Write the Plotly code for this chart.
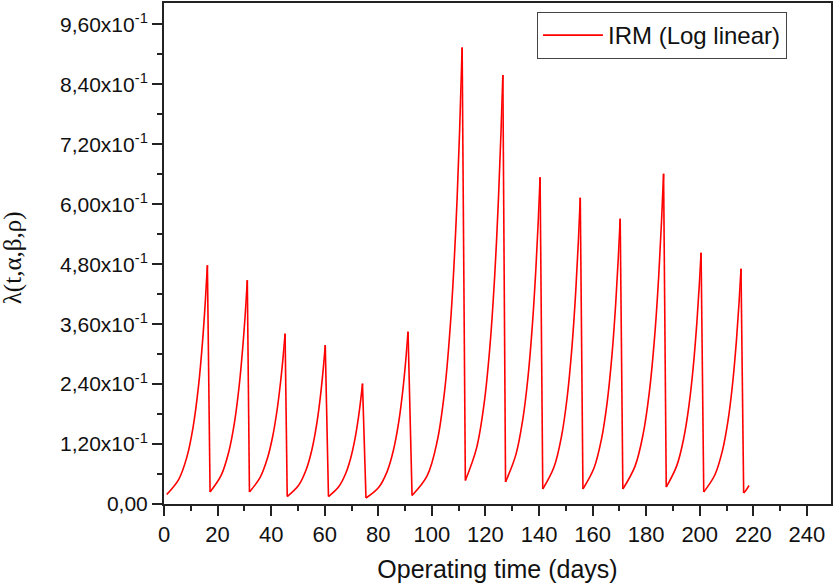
import plotly.graph_objects as go

# Operating time (days) and intensity values
t_values = [
    1.0, 5.56, 8.6, 10.88, 12.86, 14.38, 15.44, 16.2,
    17.2, 21.37, 24.15, 26.24, 28.04, 29.43, 30.41, 31.1,
    31.9, 35.89, 38.55, 40.55, 42.27, 43.6, 44.54, 45.2,
    46.0, 50.26, 53.1, 55.23, 57.08, 58.5, 59.49, 60.2,
    61.4, 65.21, 67.75, 69.66, 71.31, 72.58, 73.47, 74.1,
    75.4, 80.11, 83.25, 85.6, 87.65, 89.22, 90.32, 91.1,
    92.6, 98.21, 101.95, 104.76, 107.19, 109.06, 110.37, 111.3,
    112.5, 116.7, 119.5, 121.6, 123.42, 124.82, 125.8, 126.5,
    127.5, 131.37, 133.95, 135.89, 137.56, 138.85, 139.76, 140.4,
    141.4, 145.6, 148.4, 150.5, 152.32, 153.72, 154.7, 155.4,
    156.4, 160.57, 163.35, 165.44, 167.24, 168.63, 169.6, 170.3,
    171.3, 175.86, 178.9, 181.18, 183.16, 184.68, 185.74, 186.5,
    187.5, 191.4, 194.0, 195.95, 197.64, 198.94, 199.85, 200.5,
    201.5, 205.67, 208.45, 210.54, 212.34, 213.73, 214.71, 215.4,
    216.4, 217.4, 218.4,
]
lambda_values = [
    0.019, 0.050, 0.0953, 0.1546, 0.235, 0.3245, 0.4066, 0.478,
    0.024, 0.0577, 0.1037, 0.1609, 0.2353, 0.3154, 0.387, 0.448,
    0.024, 0.0532, 0.0905, 0.1347, 0.1902, 0.2482, 0.2986, 0.341,
    0.015, 0.0375, 0.0691, 0.1092, 0.1624, 0.2205, 0.273, 0.318,
    0.015, 0.0345, 0.0601, 0.0912, 0.1308, 0.1728, 0.2098, 0.241,
    0.012, 0.0329, 0.0644, 0.1065, 0.1649, 0.2306, 0.2917, 0.345,
    0.017, 0.0562, 0.1247, 0.2266, 0.3805, 0.5668, 0.7494, 0.914,
    0.047, 0.1124, 0.201, 0.3108, 0.4536, 0.6063, 0.743, 0.859,
    0.044, 0.0989, 0.1696, 0.2543, 0.3612, 0.473, 0.5716, 0.654,
    0.030, 0.0742, 0.1356, 0.2132, 0.3156, 0.4266, 0.527, 0.613,
    0.030, 0.0726, 0.1309, 0.2036, 0.2985, 0.4008, 0.4929, 0.571,
    0.030, 0.0759, 0.1408, 0.2239, 0.3346, 0.456, 0.5659, 0.661,
    0.034, 0.0763, 0.1308, 0.1958, 0.278, 0.364, 0.4393, 0.503,
    0.024, 0.0586, 0.1063, 0.1662, 0.2448, 0.3296, 0.4058, 0.471,
    0.022, 0.0285, 0.037,
]

y_tickvals = [0.0, 0.12, 0.24, 0.36, 0.48, 0.60, 0.72, 0.84, 0.96]
y_ticktext = ["0,00", "1,20x10<sup>-1</sup>", "2,40x10<sup>-1</sup>", "3,60x10<sup>-1</sup>",
              "4,80x10<sup>-1</sup>", "6,00x10<sup>-1</sup>", "7,20x10<sup>-1</sup>",
              "8,40x10<sup>-1</sup>", "9,60x10<sup>-1</sup>"]
x_tickvals = [0, 20, 40, 60, 80, 100, 120, 140, 160, 180, 200, 220, 240]

series_name = "IRM (Log linear)"
x_title = "Operating time (days)"
y_title = "λ(t,α,β,ρ)"

# Split the curve into rising parts (smooth) and repair drops (straight)
rise_x, rise_y, drop_x, drop_y = [], [], [], []
for i, (t, v) in enumerate(zip(t_values, lambda_values)):
    if i > 0 and v < lambda_values[i - 1]:
        rise_x.append(None); rise_y.append(None)
        drop_x += [t_values[i - 1], t, None]
        drop_y += [lambda_values[i - 1], v, None]
    rise_x.append(t); rise_y.append(v)

red = "#ff0000"
fig = go.Figure()
fig.add_trace(go.Scatter(
    x=rise_x, y=rise_y, mode="lines", name=series_name, connectgaps=False,
    line=dict(color=red, width=1.6, shape="spline", smoothing=1.0),
))
fig.add_trace(go.Scatter(
    x=drop_x, y=drop_y, mode="lines", showlegend=False, connectgaps=False,
    line=dict(color=red, width=1.6), hoverinfo="skip",
))

fig.update_layout(
    width=834, height=586,
    margin=dict(l=164, r=3, t=3, b=82, autoexpand=False),
    paper_bgcolor="white", plot_bgcolor="white",
    font=dict(family="Liberation Sans, Arial, sans-serif", color="#111111"),
    showlegend=True,
    legend=dict(
        x=0.934, xanchor="right", y=0.982, yanchor="top",
        bgcolor="white", bordercolor="#444444", borderwidth=1,
        font=dict(size=24, color="#111111"),
        itemwidth=60, tracegroupgap=0,
    ),
    annotations=[dict(
        text=y_title, xref="paper", yref="paper", x=-0.226, y=0.491,
        xanchor="center", yanchor="middle", textangle=-90, showarrow=False,
        font=dict(family="Liberation Serif, Times New Roman, serif", size=25, color="#111111"),
    )],
)

fig.update_xaxes(
    range=[0, 249], tickvals=x_tickvals, automargin=False,
    showline=True, linecolor="#222222", linewidth=2, mirror=True,
    ticks="outside", ticklen=10, tickwidth=1.5, tickcolor="#222222",
    minor=dict(dtick=10, tick0=0, ticks="outside", ticklen=5, tickwidth=1.5, tickcolor="#222222"),
    showgrid=False, zeroline=False,
    tickfont=dict(size=22),
    title=dict(text=x_title, font=dict(size=25), standoff=14),
)
fig.update_yaxes(
    range=[0, 1.003], tickvals=y_tickvals, ticktext=y_ticktext, automargin=False,
    showline=True, linecolor="#222222", linewidth=2, mirror=True,
    ticks="outside", ticklen=10, tickwidth=1.5, tickcolor="#222222",
    minor=dict(dtick=0.06, tick0=0, ticks="outside", ticklen=5, tickwidth=1.5, tickcolor="#222222"),
    showgrid=False, zeroline=False,
    tickfont=dict(size=21),
)

fig.write_html(
    "out.html",
    config={"displayModeBar": False},
    post_script="document.body.style.margin='0';document.body.style.overflow='hidden';",
)
